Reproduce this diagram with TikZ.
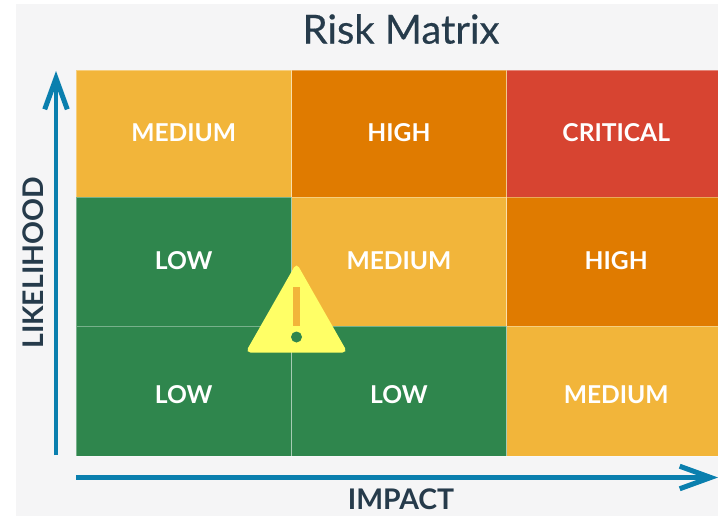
\documentclass[tikz,border=0pt]{standalone}
\usepackage{fontspec}
\setmainfont{Lato}
\newfontfamily\titlefont[FakeBold=0.35]{Lato}
\usetikzlibrary{arrows.meta}
\definecolor{pagebg}{HTML}{F5F5F6}
\definecolor{cmed}{HTML}{F2B53A}
\definecolor{chigh}{HTML}{E07B00}
\definecolor{ccrit}{HTML}{D74431}
\definecolor{clow}{HTML}{2F864D}
\definecolor{cwarn}{HTML}{FFFF66}
\definecolor{caxis}{HTML}{0A7FAE}
\definecolor{cdark}{HTML}{263B4B}
\tikzset{
  cell/.style={anchor=north west,inner sep=0pt,outer sep=0pt,draw=white,draw opacity=.35,line width=.6pt,
    text=white,font=\fontsize{24.6}{28}\selectfont\bfseries,align=center},
  medcell/.style={cell,fill=cmed},
  highcell/.style={cell,fill=chigh},
  critcell/.style={cell,fill=ccrit},
  lowcell/.style={cell,fill=clow},
  upperrow/.style={text depth=2pt},
  lowerrow/.style={text height=24pt,text depth=0pt},
  axisline/.style={draw=caxis,line width=4.2pt,-{Straight Barb[length=31pt,width=24pt,line width=5pt,angle'=40]}},
  axislabel/.style={text=cdark,font=\fontsize{28.4}{31}\selectfont\bfseries,inner sep=0pt},
}
\newcommand{\rightcol}[1]{\hspace*{8pt}#1}
\begin{document}
\begin{tikzpicture}[x=1pt,y=-1pt]
\useasboundingbox (0,0) rectangle (718,516);
\fill[pagebg] (16,4) rectangle (718,516);
\node[text=cdark,font=\fontsize{40}{44}\selectfont\titlefont,inner sep=0pt] (title) at (401,29) {Risk Matrix};
% row 1
\node[medcell,upperrow,minimum width=215.5pt,minimum height=127pt] (c11) at (76,70) {MEDIUM};
\node[highcell,upperrow,minimum width=215pt,minimum height=127pt] (c12) at (291.5,70) {HIGH};
\node[critcell,upperrow,minimum width=211.5pt,minimum height=127pt] (c13) at (506.5,70) {\rightcol{CRITICAL}};
% row 2
\node[lowcell,upperrow,minimum width=215.5pt,minimum height=129pt] (c21) at (76,197) {LOW};
\node[medcell,upperrow,minimum width=215pt,minimum height=129pt] (c22) at (291.5,197) {MEDIUM};
\node[highcell,upperrow,minimum width=211.5pt,minimum height=129pt] (c23) at (506.5,197) {\rightcol{HIGH}};
% row 3
\node[lowcell,lowerrow,minimum width=215.5pt,minimum height=130pt] (c31) at (76,326) {LOW};
\node[lowcell,lowerrow,minimum width=215pt,minimum height=130pt] (c32) at (291.5,326) {LOW};
\node[medcell,lowerrow,minimum width=211.5pt,minimum height=130pt] (c33) at (506.5,326) {\rightcol{MEDIUM}};
% warning sign
\fill[cwarn,rounded corners=5pt] (296.5,263) -- (347.5,352.5) -- (245.5,352.5) -- cycle;
\fill[cmed] (293,287) rectangle (300,326);
\fill[clow] (296.5,337) circle (5.5);
% axes
\coordinate (yfrom) at (56,455);
\coordinate (yto) at (56,71);
\coordinate (xfrom) at (76,477.5);
\coordinate (xto) at (718,477.5);
\draw[axisline] (yfrom) -- (yto);
\draw[axisline] (xfrom) -- (xto);
\node[axislabel,rotate=90] (ylabel) at (33,263) {LIKELIHOOD};
\node[axislabel] (xlabel) at (401,499) {IMPACT};
\end{tikzpicture}
\end{document}
